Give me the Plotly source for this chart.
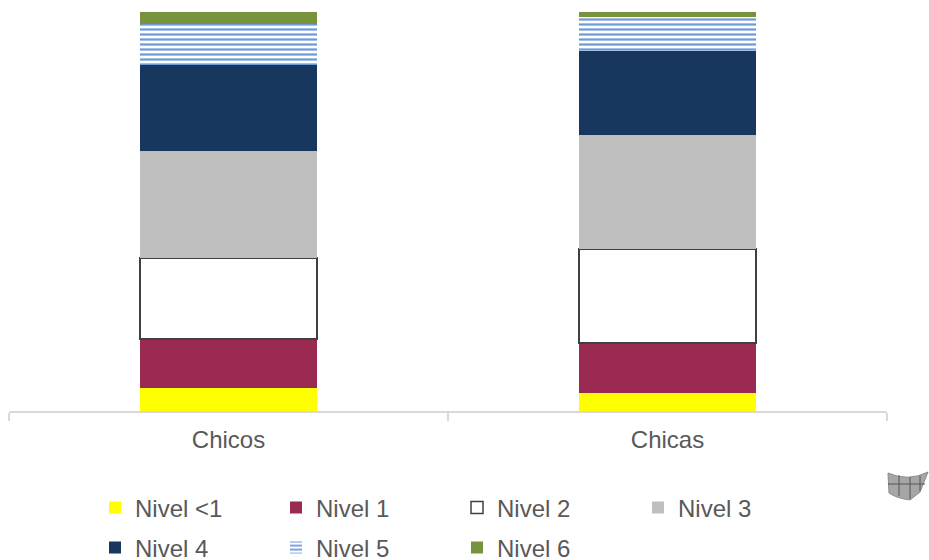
import plotly.graph_objects as go

categories = ["Chicos", "Chicas"]
levels = ["Nivel <1", "Nivel 1", "Nivel 2", "Nivel 3", "Nivel 4", "Nivel 5", "Nivel 6"]
nivel_lt1 = [5.8, 4.5]
nivel_1 = [12.3, 12.5]
nivel_2 = [20.3, 23.6]
nivel_3 = [26.8, 28.6]
nivel_4 = [21.6, 21.0]
nivel_5 = [10.2, 8.5]
nivel_6 = [3.0, 1.3]

series = [nivel_lt1, nivel_1, nivel_2, nivel_3, nivel_4, nivel_5, nivel_6]
colors = ["#FFFF00", "#9B2A53", "#FFFFFF", "#BFBFBF", "#17375E", "#FFFFFF", "#77933C"]
legend_ids = ["legend", "legend", "legend", "legend", "legend2", "legend2", "legend2"]

fig = go.Figure()
for i, (name, vals) in enumerate(zip(levels, series)):
    marker = dict(color=colors[i], line=dict(width=0))
    if name == "Nivel 2":
        marker["line"] = dict(width=1.5, color="#404040")
    if name == "Nivel 5":
        marker["pattern"] = dict(shape="-", fgcolor="#6F9AD8", bgcolor="#FFFFFF",
                                 fgopacity=1, size=5, solidity=0.45)
    fig.add_trace(go.Bar(x=categories, y=vals, name=name, marker=marker,
                         legend=legend_ids[i], hoverinfo="skip"))

legend_common = dict(orientation="h", xanchor="left", yanchor="middle",
                     font=dict(family="Arial, Liberation Sans, sans-serif", size=24, color="#595959"),
                     entrywidth=136, entrywidthmode="pixels", bgcolor="rgba(0,0,0,0)",
                     itemclick=False, itemdoubleclick=False, tracegroupgap=0,
                     traceorder="normal")

def px(x):
    return (x - 9) / 878

def py(y):
    return (411 - y) / 399

grid_lines = [
    dict(type="line", xref="paper", yref="paper", x0=px(899), x1=px(899), y0=py(475), y1=py(496),
         line=dict(color="#555555", width=1), layer="above"),
    dict(type="line", xref="paper", yref="paper", x0=px(910), x1=px(910), y0=py(477), y1=py(499),
         line=dict(color="#555555", width=1), layer="above"),
    dict(type="line", xref="paper", yref="paper", x0=px(920), x1=px(920), y0=py(476), y1=py(491),
         line=dict(color="#555555", width=1), layer="above"),
    dict(type="line", xref="paper", yref="paper", x0=px(888), x1=px(925), y0=py(484), y1=py(484),
         line=dict(color="#555555", width=1), layer="above"),
]

fig.update_layout(
    width=929, height=560,
    margin=dict(l=9, r=42, t=12, b=149, autoexpand=False),
    barmode="stack", bargap=0.597,
    plot_bgcolor="white", paper_bgcolor="white",
    showlegend=True,
    legend=dict(x=px(95), y=py(508), **legend_common),
    legend2=dict(x=px(95), y=py(548), **legend_common),
    xaxis=dict(showline=True, linecolor="#D9D9D9", linewidth=1.5, ticks="outside",
               tickson="boundaries", ticklen=8, tickcolor="#D9D9D9", tickwidth=1.5,
               ticklabelstandoff=6,
               tickfont=dict(family="Arial, Liberation Sans, sans-serif", size=24, color="#595959"),
               showgrid=False, zeroline=False),
    yaxis=dict(range=[0, 100], visible=False, showgrid=False, zeroline=False),
    shapes=[dict(type="path", xref="paper", yref="paper",
                 path=(f"M {px(888)} {py(473)} Q {px(908)} {py(482)} {px(928)} {py(472)} "
                       f"L {px(920)} {py(492)} L {px(910)} {py(500)} "
                       f"Q {px(896)} {py(498)} {px(889)} {py(493)} Z"),
                 fillcolor="#A6A6A6", line=dict(color="#8C8C8C", width=1), layer="above")] + grid_lines,
)

fig.write_html("out.html", config={"displayModeBar": False},
               post_script="document.body.style.margin='0';document.body.style.overflow='hidden';")
